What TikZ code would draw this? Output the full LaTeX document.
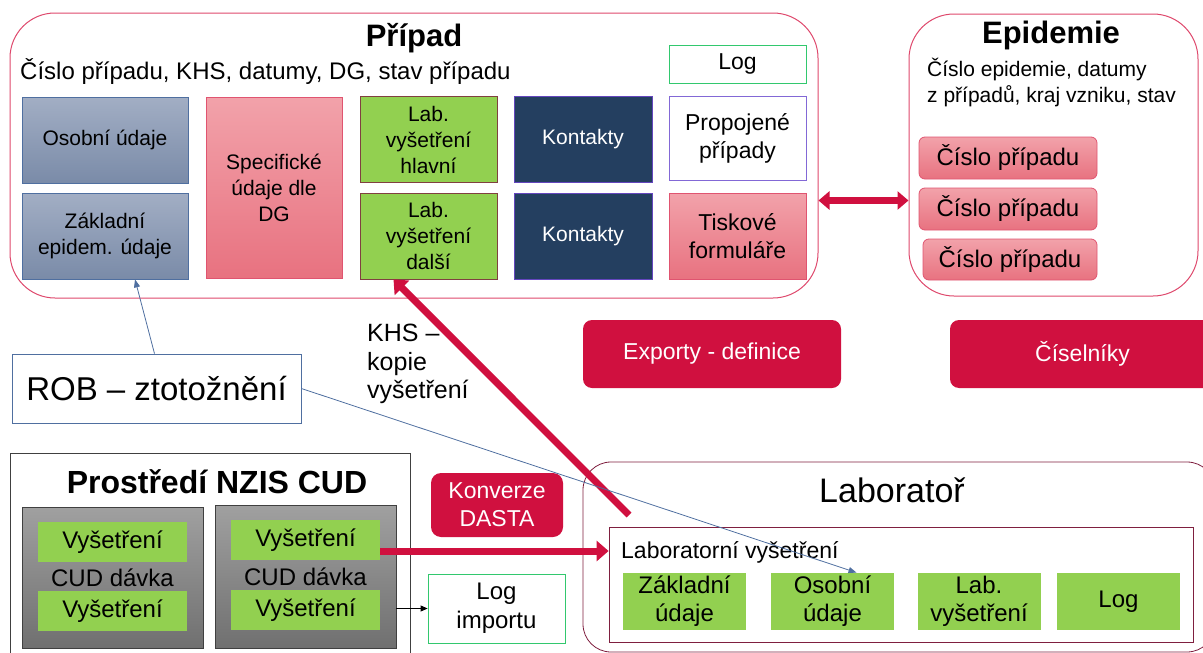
\documentclass[tikz,border=0pt]{standalone}
\usepackage{fontspec}
\setmainfont{Liberation Sans}
\usetikzlibrary{arrows.meta}

\definecolor{karmin}{RGB}{208,16,63}
\definecolor{okraj}{RGB}{222,72,108}
\definecolor{ruzhore}{RGB}{242,162,170}
\definecolor{ruzdole}{RGB}{232,114,128}
\definecolor{ruzokraj}{RGB}{224,84,112}
\definecolor{modhore}{RGB}{162,174,196}
\definecolor{moddole}{RGB}{122,139,168}
\definecolor{modokraj}{RGB}{79,111,160}
\definecolor{zelena}{RGB}{146,208,80}
\definecolor{hnedy}{RGB}{128,64,64}
\definecolor{namornicka}{RGB}{36,63,96}
\definecolor{fialova}{RGB}{100,70,190}
\definecolor{svfialova}{RGB}{130,104,214}
\definecolor{logzelena}{RGB}{50,200,110}
\definecolor{vinova}{RGB}{127,31,63}
\definecolor{sedhore}{RGB}{160,160,160}
\definecolor{seddole}{RGB}{112,112,112}
\definecolor{sedokraj}{RGB}{64,64,64}

\tikzset{
  frame/.style={draw=okraj, line width=1pt, rounded corners=45pt, inner sep=0pt},
  box/.style={draw, line width=0.8pt, align=center, inner sep=2pt, font=\fontsize{21}{26}\selectfont},
  bluebox/.style={box, draw=modokraj, top color=modhore, bottom color=moddole, minimum width=166pt, minimum height=86pt},
  pinkbox/.style={box, draw=ruzokraj, top color=ruzhore, bottom color=ruzdole},
  greenbox/.style={box, draw=hnedy, fill=zelena, minimum width=137pt, minimum height=86pt},
  navybox/.style={box, draw=fialova, fill=namornicka, text=white, minimum width=138pt, minimum height=86pt},
  whitebox/.style={box, fill=white, minimum width=137pt, font=\fontsize{23}{28}\selectfont},
  redbox/.style={box, draw=none, fill=karmin, text=white, rounded corners=9pt, font=\fontsize{23}{28}\selectfont},
  cislo/.style={pinkbox, rounded corners=6pt, minimum height=42pt, font=\fontsize{24}{28}\selectfont},
  vys/.style={box, draw=none, fill=zelena, minimum width=149pt, minimum height=40pt, font=\fontsize{24}{28}\selectfont},
  davka/.style={box, draw=sedokraj, top color=sedhore, bottom color=seddole, minimum width=181pt, font=\fontsize{24}{28}\selectfont},
  labgreen/.style={box, draw=none, fill=zelena, minimum width=123pt, minimum height=57pt, font=\fontsize{24}{28}\selectfont},
  label/.style={inner sep=0pt, align=left, font=\fontsize{23}{28.5}\selectfont},
  title/.style={inner sep=0pt, font=\bfseries\fontsize{31}{36}\selectfont},
  bigarrow/.style={draw=karmin, line width=7pt, -{Triangle[width=20pt,length=12pt]}},
  thinarrow/.style={draw=modokraj, line width=0.8pt, -{Triangle[width=6pt,length=8pt]}},
}

\begin{document}
\begin{tikzpicture}[x=1pt,y=-1pt]
  \useasboundingbox (0,0) rectangle (1203,653);

  % Pripad
  \node[frame, minimum width=808pt, minimum height=285pt] (pripad) at (414,155.5) {};
  \node[title] (pripadtit) at (414,38) {Případ};
  \node[label, anchor=west, font=\fontsize{24}{28}\selectfont] (pripadsub) at (20,72) {Číslo případu, KHS, datumy, DG, stav případu};
  \node[bluebox] (osob) at (105,140) {Osobní údaje};
  \node[bluebox] (zakl) at (105,236) {Základní\\epidem. údaje};
  \node[pinkbox, minimum width=136pt, minimum height=181pt] (spec) at (274,187.5) {Specifické\\údaje dle\\DG};
  \node[greenbox] (labh) at (428.5,139.5) {Lab.\\vyšetření\\hlavní};
  \node[greenbox] (labd) at (428.5,236) {Lab.\\vyšetření\\další};
  \node[navybox] (kont1) at (583,139) {Kontakty};
  \node[navybox] (kont2) at (583,236) {Kontakty};
  \node[whitebox, draw=logzelena, minimum height=38pt] (log) at (737.5,64) {Log};
  \node[whitebox, draw=svfialova, minimum height=84pt] (prop) at (737.5,138) {Propojené\\případy};
  \node[pinkbox, minimum width=137pt, minimum height=86pt, font=\fontsize{23}{28}\selectfont] (tisk) at (737.5,236) {Tiskové\\formuláře};

  % Epidemie
  \node[frame, minimum width=289pt, minimum height=282pt] (epid) at (1053.5,155) {};
  \node[title] (epidtit) at (1051,35) {Epidemie};
  \node[label, anchor=west, font=\fontsize{21}{26}\selectfont] (epidsub) at (927,83) {Číslo epidemie, datumy\\z případů, kraj vzniku, stav};
  \node[cislo, minimum width=178pt] (cp1) at (1008,158) {Číslo případu};
  \node[cislo, minimum width=178pt] (cp2) at (1008,209) {Číslo případu};
  \node[cislo, minimum width=174pt, minimum height=41pt] (cp3) at (1010,259.5) {Číslo případu};

  \node[redbox, minimum width=258pt, minimum height=68pt] (export) at (712,354) {Exporty - definice};
  \node[redbox, minimum width=265pt, minimum height=68pt] (cisel) at (1082.5,354) {Číselníky};

  % ROB a KHS
  \node[box, draw=modokraj, minimum width=289pt, minimum height=69pt, font=\fontsize{33}{38}\selectfont] (rob) at (156.5,388.5) {ROB – ztotožnění};
  \node[label, anchor=west, font=\fontsize{25}{28.5}\selectfont] (khs) at (367,364) {KHS –\\kopie\\vyšetření};

  % Prostredi NZIS CUD
  \node[box, draw=sedokraj, minimum width=400pt, minimum height=212pt] (nzis) at (210,559) {};
  \node[title, font=\bfseries\fontsize{32}{36}\selectfont] (nzistit) at (217,482) {Prostředí NZIS CUD};
  \node[davka, minimum height=141pt] (cud1) at (112.5,577.5) {CUD dávka};
  \node[davka, minimum height=143pt] (cud2) at (305.5,576.5) {CUD dávka};
  \node[vys] (vys1a) at (112.5,542) {Vyšetření};
  \node[vys] (vys1b) at (112.5,611) {Vyšetření};
  \node[vys] (vys2a) at (305.5,540) {Vyšetření};
  \node[vys] (vys2b) at (305.5,610) {Vyšetření};
  \node[redbox, rounded corners=10pt, minimum width=132pt, minimum height=64pt] (konv) at (497,505) {Konverze\\DASTA};
  \node[whitebox, draw=logzelena, minimum height=69pt, font=\fontsize{24}{29}\selectfont] (logimp) at (496.5,608.5) {Log\\importu};

  % Laborator
  \node[frame, draw=vinova, line width=0.8pt, rounded corners=28pt, minimum width=632pt, minimum height=190pt] (lab) at (899,557) {};
  \node[label, font=\fontsize{34}{38}\selectfont] (labtit) at (892,490) {Laboratoř};
  \node[box, draw=vinova, minimum width=584pt, minimum height=115pt] (labvys) at (901,584.5) {};
  \node[label, anchor=west] (labvystxt) at (621,552) {Laboratorní vyšetření};
  \node[labgreen] (lz) at (684.5,601.5) {Základní\\údaje};
  \node[labgreen] (lo) at (832.5,601.5) {Osobní\\údaje};
  \node[labgreen] (ll) at (979,601.5) {Lab.\\vyšetření};
  \node[labgreen] (lg) at (1118.5,601.5) {Log};

  % spojnice
  \coordinate (dvA) at ([yshift=-45pt]pripad.east);
  \coordinate (kopie) at (629,515);
  \coordinate (vysA) at ([yshift=-11pt]vys2a.east);
  \draw[bigarrow, line width=6.5pt, {Triangle[width=18pt,length=11pt]}-{Triangle[width=18pt,length=11pt]}] (dvA) -- (dvA -| epid.west);
  \draw[bigarrow] (kopie) -- ([xshift=-35pt]labd.south);
  \draw[bigarrow] (vysA) -- (vysA -| labvys.west);
  \draw[thinarrow] ([xshift=-2pt]rob.north) -- ([xshift=30pt]zakl.south);
  \draw[thinarrow] (rob.east) -- ([xshift=24pt]lo.north);
  \draw[line width=0.8pt, -{Triangle[width=6pt,length=7pt]}] (logimp.west -| cud2.east) -- (logimp.west);
\end{tikzpicture}
\end{document}
